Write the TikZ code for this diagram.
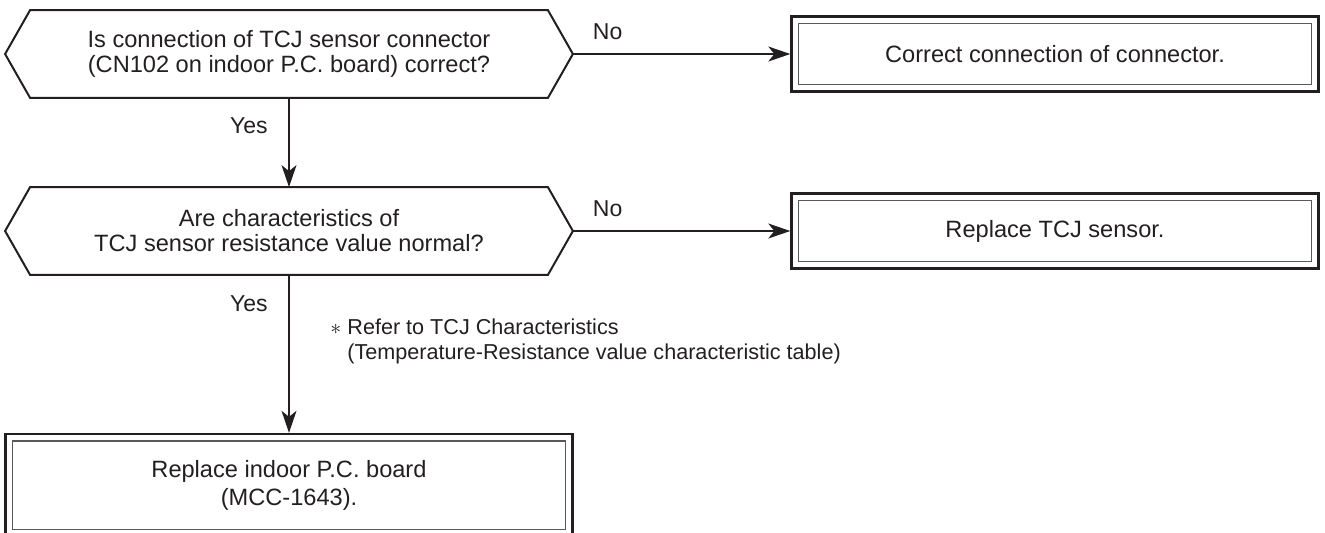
\documentclass[tikz,border=0pt]{standalone}
\usepackage{fontspec}
\setmainfont{Liberation Sans}
\usetikzlibrary{arrows.meta}
\definecolor{ink}{RGB}{35,31,32}
\definecolor{slate}{RGB}{88,89,91}
\tikzset{
  >={Stealth[length=11pt,width=7.5pt,inset=3pt]},
  question/.style={minimum width=283.5pt,minimum height=43.5pt,inner sep=0pt,align=center,
    font=\fontsize{11.8}{12.5}\selectfont,text=ink},
  hexline/.style={draw=ink,line width=1pt,line join=miter},
  action/.style={draw=ink,line width=1.2pt,minimum width=263.5pt,minimum height=37.5pt,
    inner sep=0pt,align=center,font=\fontsize{11.8}{14}\selectfont,text=ink},
  inner/.style={draw=slate,line width=0.7pt},
  flow/.style={->,draw=ink,line width=0.65pt},
  tag/.style={font=\fontsize{11.5}{12.5}\selectfont,text=ink},
}

\begin{document}
\begin{tikzpicture}[x=0.5pt,y=-0.5pt]
  \clip (0,0) rectangle (1325,532);
  % questions
  \node[question] (q1) at (289,54) {Is connection of TCJ sensor connector\\(CN102 on indoor P.C. board) correct?};
  \node[question] (q2) at (289,231) {Are characteristics of\\TCJ sensor resistance value normal?};
  \foreach \q in {q1,q2}
    \draw[hexline] (\q.west) -- ([xshift=12.5pt]\q.north west) -- ([xshift=-12.5pt]\q.north east)
      -- (\q.east) -- ([xshift=-12.5pt]\q.south east) -- ([xshift=12.5pt]\q.south west) -- cycle;
  % actions
  \node[action] (b1) at (1055,54) {Correct connection of connector.};
  \node[action] (b2) at (1055,231) {Replace TCJ sensor.};
  \node[action,minimum width=283.5pt,minimum height=51pt] (b3) at (289,485) {Replace indoor P.C. board\\(MCC-1643).};
  \foreach \b in {b1,b2,b3}
    \draw[inner] ([shift={(4pt,-4pt)}]\b.north west) rectangle ([shift={(-4pt,4pt)}]\b.south east);
  % flow
  \draw[flow] (q1.east) -- node[tag,pos=0.16,above=3.5pt] (no1) {No} (b1.west);
  \draw[flow] (q1.south) -- node[tag,pos=0.31,left=7pt] (yes1) {Yes} (q2.north);
  \draw[flow] (q2.east) -- node[tag,pos=0.16,above=3.5pt] (no2) {No} (b2.west);
  \draw[flow] (q2.south) -- node[tag,pos=0.18,left=7pt] (yes2) {Yes} (b3.north);
  \node[tag,font=\fontsize{10.8}{12.5}\selectfont,align=left,anchor=north west,inner sep=0pt] (note) at (347,318)
    {\llap{$\ast$\hspace{3pt}}Refer to TCJ Characteristics\\(Temperature-Resistance value characteristic table)};
\end{tikzpicture}
\end{document}
